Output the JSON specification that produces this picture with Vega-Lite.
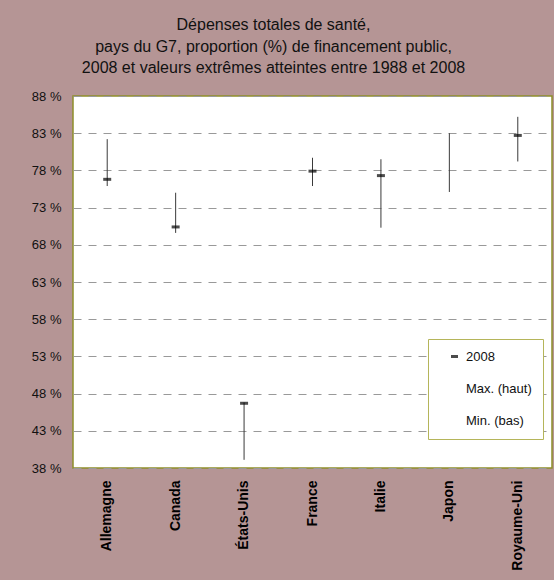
{
  "$schema": "https://vega.github.io/schema/vega-lite/v6.json",
  "width": 479,
  "height": 372,
  "autosize": {"type": "none"},
  "padding": {"left": 73, "top": 96, "right": 2, "bottom": 112},
  "background": "#B59595",
  "title": {
    "text": ["Dépenses totales de santé,", "pays du G7, proportion (%) de financement public,", "2008 et valeurs extrêmes atteintes entre 1988 et 2008"],
    "font": "Liberation Sans",
    "fontSize": 16,
    "fontWeight": "normal",
    "color": "#111111",
    "lineHeight": 21.5,
    "offset": 14,
    "dx": -39,
    "anchor": "middle"
  },
  "data": {
    "values": [
      {"pays": "Allemagne", "v2008": 76.8, "max": 82.2, "min": 75.9},
      {"pays": "Canada", "v2008": 70.4, "max": 75.0, "min": 69.6},
      {"pays": "États-Unis", "v2008": 46.7, "max": 46.8, "min": 39.1},
      {"pays": "France", "v2008": 77.9, "max": 79.7, "min": 75.9},
      {"pays": "Italie", "v2008": 77.3, "max": 79.5, "min": 70.3},
      {"pays": "Japon", "v2008": null, "max": 83.0, "min": 75.1},
      {"pays": "Royaume-Uni", "v2008": 82.7, "max": 85.2, "min": 79.2}
    ]
  },
  "encoding": {
    "x": {
      "field": "pays",
      "type": "nominal",
      "sort": null,
      "scale": {"paddingInner": 0, "paddingOuter": 0},
      "axis": {
        "title": null,
        "labelAngle": -90,
        "labelFont": "Liberation Sans",
        "labelFontWeight": "bold",
        "labelFontSize": 14,
        "labelColor": "#000000",
        "ticks": false,
        "domain": false,
        "grid": false,
        "labelPadding": 12
      }
    }
  },
  "layer": [
    {
      "mark": {"type": "rule", "color": "#3a3a3a", "strokeWidth": 1},
      "encoding": {
        "y": {
          "field": "min",
          "type": "quantitative",
          "scale": {"domain": [38, 88], "nice": false, "zero": false},
          "axis": {
            "title": null,
            "values": [38, 43, 48, 53, 58, 63, 68, 73, 78, 83, 88],
            "labelExpr": "datum.value + ' %'",
            "labelOverlap": false,
            "labelFont": "Liberation Sans",
            "labelFontSize": 13,
            "labelColor": "#111111",
            "ticks": false,
            "domain": false,
            "grid": true,
            "gridColor": "#999999",
            "gridDash": [8, 7],
            "gridWidth": 1,
            "labelPadding": 12
          }
        },
        "y2": {"field": "max"}
      }
    },
    {
      "mark": {"type": "tick", "thickness": 3, "size": 8, "orient": "horizontal"},
      "encoding": {
        "y": {
          "field": "v2008",
          "type": "quantitative",
          "axis": {
            "title": null,
            "values": [38, 43, 48, 53, 58, 63, 68, 73, 78, 83, 88],
            "labelExpr": "datum.value + ' %'",
            "labelOverlap": false,
            "labelFont": "Liberation Sans",
            "labelFontSize": 13,
            "labelColor": "#111111",
            "ticks": false,
            "domain": false,
            "grid": true,
            "gridColor": "#999999",
            "gridDash": [8, 7],
            "gridWidth": 1,
            "labelPadding": 12
          }
        },
        "color": {
          "datum": "2008",
          "type": "nominal",
          "scale": {"domain": ["2008", "Max. (haut)", "Min. (bas)"], "range": ["#000000", "transparent", "transparent"]},
          "legend": {
            "title": null,
            "orient": "none",
            "legendX": 355,
            "legendY": 243,
            "fillColor": "#ffffff",
            "strokeColor": "#B5B55A",
            "padding": 11,
            "symbolOffset": 9,
            "rowPadding": 18,
            "labelOffset": 5,
            "labelFont": "Liberation Sans",
            "labelFontSize": 13,
            "labelColor": "#111111",
            "symbolType": "M-1,-0.43H1V0.43H-1Z",
            "symbolSize": 49,
            "symbolStrokeWidth": 0
          }
        }
      }
    }
  ],
  "config": {
    "view": {"fill": "#ffffff", "stroke": "#8E8E2A", "strokeWidth": 1.5}
  }
}
